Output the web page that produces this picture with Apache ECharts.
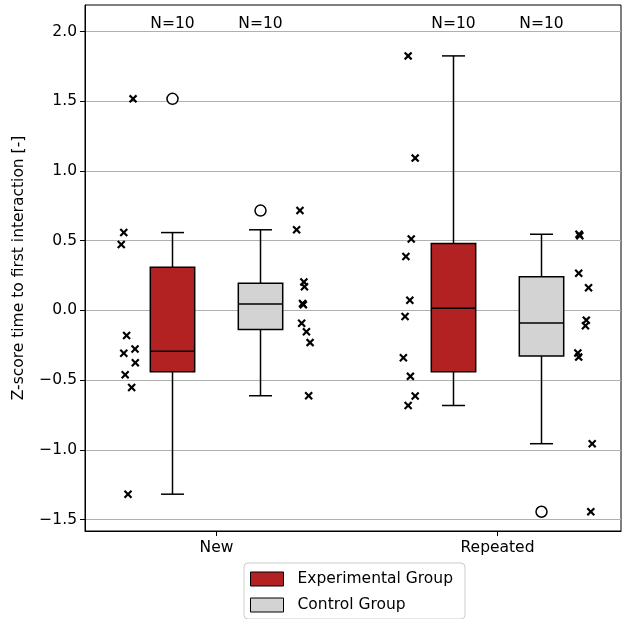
<!DOCTYPE html>
<html><head><meta charset="utf-8">
<script src="https://cdn.jsdelivr.net/npm/echarts@6/dist/echarts.min.js"></script>
<style>html,body{margin:0;padding:0;background:#fff}#c{width:622px;height:619px}</style>
</head><body><div id="c"></div>
<script>
const categories = ['New', 'Repeated'];
const groupNames = ['Experimental Group', 'Control Group'];
const yTicks = [-1.5, -1.0, -0.5, 0.0, 0.5, 1.0, 1.5, 2.0];

const newExp  = [1.517, 0.558, 0.473, -0.180, -0.308, -0.277, -0.376, -0.461, -0.553, -1.318];
const newExpX = [-0.297, -0.330, -0.339, -0.320, -0.330, -0.290, -0.289, -0.325, -0.302, -0.315];
const newCtrl  = [0.716, 0.578, 0.204, 0.170, 0.050, 0.040, -0.092, -0.153, -0.231, -0.612];
const newCtrlX = [0.297, 0.285, 0.311, 0.313, 0.306, 0.309, 0.303, 0.320, 0.333, 0.328];
const repExp  = [1.825, 1.092, 0.512, 0.386, 0.073, -0.044, -0.340, -0.473, -0.614, -0.682];
const repExpX = [-0.318, -0.293, -0.307, -0.326, -0.312, -0.329, -0.335, -0.310, -0.293, -0.318];
const repCtrl  = [0.546, 0.535, 0.267, 0.163, -0.070, -0.110, -0.306, -0.335, -0.956, -1.444];
const repCtrlX = [0.290, 0.293, 0.289, 0.324, 0.316, 0.313, 0.286, 0.289, 0.337, 0.332];

// layout constants
const BOX_OFFSET = [-0.1566, 0.1566];
const BOX_W = 0.158;
const CAP_W = 0.082;
const COLORS = ['#b22222', '#d3d3d3'];
const FONT = 'DejaVu Sans';
const FS = 15.5;

const groupData = [
  [{v: newExp, x: newExpX}, {v: repExp, x: repExpX}],
  [{v: newCtrl, x: newCtrlX}, {v: repCtrl, x: repCtrlX}]
];

function quantile(s, p) {
  const pos = (s.length - 1) * p, lo = Math.floor(pos), hi = Math.ceil(pos);
  return s[lo] + (s[hi] - s[lo]) * (pos - lo);
}
function stats(arr) {
  const s = [...arr].sort((a, b) => a - b);
  const q1 = quantile(s, 0.25), med = quantile(s, 0.5), q3 = quantile(s, 0.75);
  const iqr = q3 - q1;
  const lo = s.find(v => v >= q1 - 1.5 * iqr);
  const hi = [...s].reverse().find(v => v <= q3 + 1.5 * iqr);
  const out = s.filter(v => v < lo || v > hi);
  return {q1, med, q3, lo, hi, out};
}

const series = [];
groupNames.forEach((name, g) => {
  const boxData = [], outData = [], ptData = [];
  groupData[g].forEach((d, ci) => {
    const st = stats(d.v);
    const cx = ci + BOX_OFFSET[g];
    boxData.push([cx, st.lo, st.q1, st.med, st.q3, st.hi]);
    st.out.forEach(o => outData.push([cx, o]));
    d.v.forEach((v, k) => ptData.push([ci + d.x[k], v]));
  });
  series.push({
    type: 'custom', name: name, z: 3,
    itemStyle: {color: COLORS[g]},
    data: boxData,
    renderItem: (params, api) => {
      const x = api.value(0);
      const pLo = api.coord([x, api.value(1)]);
      const pQ1 = api.coord([x, api.value(2)]);
      const pMed = api.coord([x, api.value(3)]);
      const pQ3 = api.coord([x, api.value(4)]);
      const pHi = api.coord([x, api.value(5)]);
      const cx = pLo[0];
      const half = api.size([BOX_W, 0])[0] / 2;
      const cap = api.size([CAP_W, 0])[0] / 2;
      const ls = {stroke: '#000', lineWidth: 1.5};
      return {type: 'group', children: [
        {type: 'line', shape: {x1: cx, y1: pQ3[1], x2: cx, y2: pHi[1]}, style: ls},
        {type: 'line', shape: {x1: cx, y1: pQ1[1], x2: cx, y2: pLo[1]}, style: ls},
        {type: 'line', shape: {x1: cx - cap, y1: pHi[1], x2: cx + cap, y2: pHi[1]}, style: ls},
        {type: 'line', shape: {x1: cx - cap, y1: pLo[1], x2: cx + cap, y2: pLo[1]}, style: ls},
        {type: 'rect', shape: {x: cx - half, y: pQ3[1], width: 2 * half, height: pQ1[1] - pQ3[1]},
          style: {fill: COLORS[g], stroke: '#000', lineWidth: 1.5}},
        {type: 'line', shape: {x1: cx - half, y1: pMed[1], x2: cx + half, y2: pMed[1]}, style: ls}
      ]};
    }
  });
  series.push({
    type: 'scatter', z: 4, silent: true,
    symbol: 'circle', symbolSize: 11,
    itemStyle: {color: '#fff', borderColor: '#000', borderWidth: 1.5, opacity: 1},
    data: outData
  });
  series.push({
    type: 'scatter', z: 4, silent: true,
    symbol: 'path://M0,1.8 L1.8,0 L5,3.2 L8.2,0 L10,1.8 L6.8,5 L10,8.2 L8.2,10 L5,6.8 L1.8,10 L0,8.2 L3.2,5 Z',
    symbolSize: 8.5,
    itemStyle: {color: '#000', opacity: 1},
    data: ptData
  });
  // N labels
  series.push({
    type: 'custom', z: 5, silent: true,
    data: groupData[g].map((d, ci) => [ci + BOX_OFFSET[g], 2.055, d.v.length]),
    renderItem: (params, api) => {
      const p = api.coord([api.value(0), api.value(1)]);
      return {type: 'text', x: p[0], y: p[1],
        style: {text: 'N=' + api.value(2), fontSize: FS, fontFamily: FONT, fill: '#000',
          align: 'center', verticalAlign: 'middle'}};
    }
  });
});

const fmtY = v => (v < 0 ? '\u2212' + Math.abs(v).toFixed(1) : v.toFixed(1));

const option = {
  animation: false,
  backgroundColor: '#fff',
  textStyle: {fontFamily: FONT},
  grid: {left: 85, right: 1, top: 5, bottom: 88, show: true, borderColor: '#000', borderWidth: 1, backgroundColor: 'transparent'},
  xAxis: {
    type: 'value', min: -0.468, max: 1.4395,
    axisLine: {show: true, onZero: false, lineStyle: {color: '#000', width: 1}},
    axisTick: {show: true, customValues: [0, 1], length: 5, lineStyle: {color: '#000'}},
    axisLabel: {show: true, customValues: [0, 1], formatter: v => categories[Math.round(v)],
      color: '#000', fontSize: FS, fontFamily: FONT, margin: 9},
    splitLine: {show: false}
  },
  yAxis: {
    type: 'value', min: -1.582, max: 2.19,
    name: 'Z-score time to first interaction [-]', nameLocation: 'middle', nameGap: 58,
    nameTextStyle: {color: '#000', fontSize: FS, fontFamily: FONT},
    axisLine: {show: true, onZero: false, lineStyle: {color: '#000', width: 1}},
    axisTick: {show: true, customValues: yTicks, length: 5, lineStyle: {color: '#000'}},
    axisLabel: {show: true, customValues: yTicks, formatter: fmtY, color: '#000', fontSize: FS, fontFamily: FONT, margin: 8},
    splitLine: {show: true, lineStyle: {color: '#b0b0b0', width: 1.2}}
  },
  legend: {
    orient: 'vertical', left: 244, top: 563,
    padding: [8, 12, 6, 6], itemGap: 10, itemWidth: 33, itemHeight: 14,
    borderColor: '#cccccc', borderWidth: 1, borderRadius: 4, backgroundColor: '#fff',
    icon: 'rect',
    itemStyle: {borderColor: '#000', borderWidth: 1},
    textStyle: {color: '#000', fontSize: FS, fontFamily: FONT, padding: [0, 0, 0, 9]},
    data: groupNames
  },
  series: series
};
const chart = echarts.init(document.getElementById('c'), null, {renderer: 'canvas'});
chart.setOption(option);
</script></body></html>
